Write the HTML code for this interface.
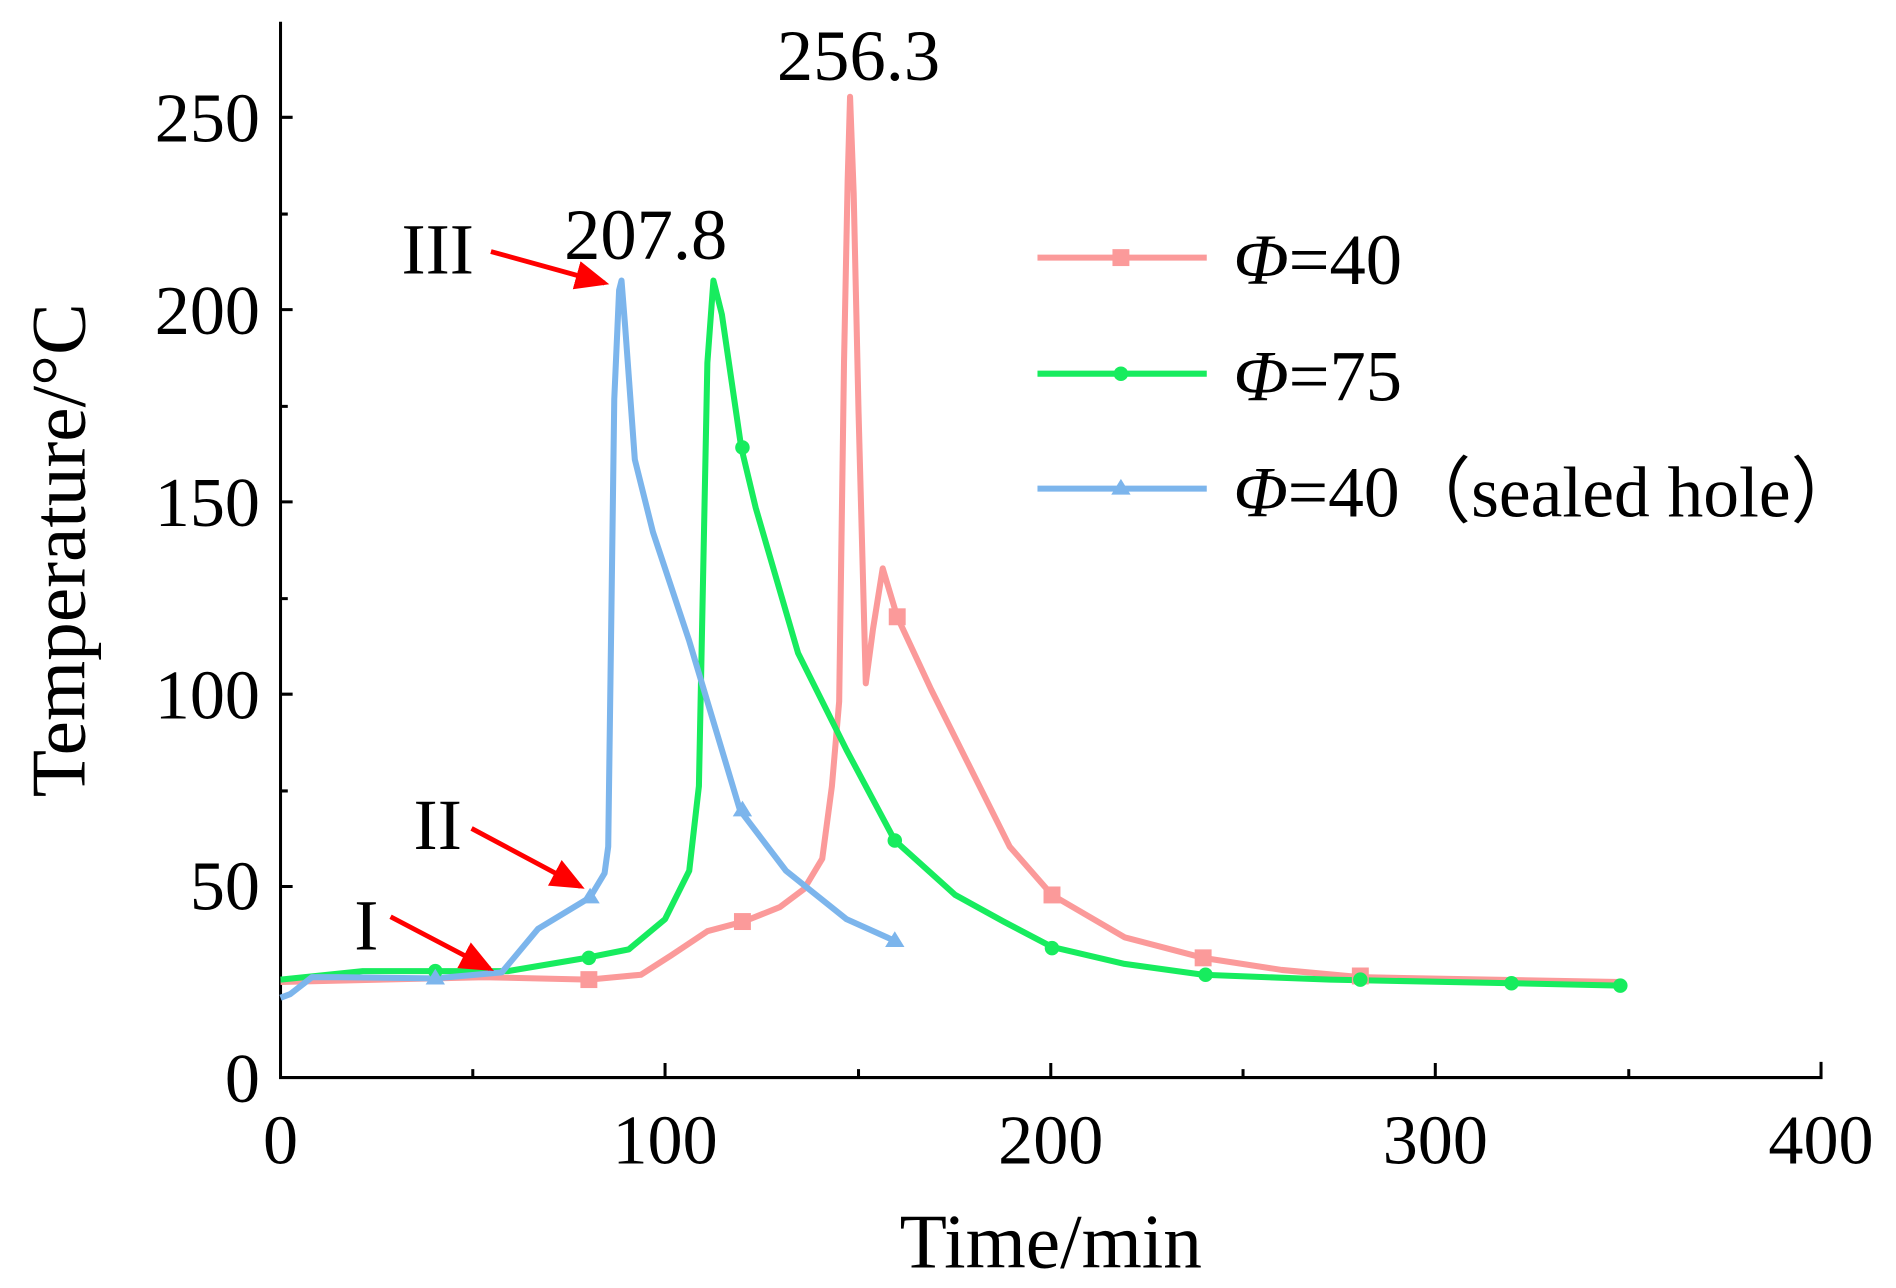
<!DOCTYPE html><html><head><style>body{margin:0;background:#fff}svg{display:block}</style></head><body>
<svg width="1896" height="1288" viewBox="0 0 1568 1065" preserveAspectRatio="none" xmlns="http://www.w3.org/2000/svg" font-family="Liberation Serif, serif">
<defs><marker id="ah" markerWidth="8" markerHeight="8" refX="6" refY="4" orient="auto" markerUnits="strokeWidth"><path d="M0,1 L7,4 L0,7 z" fill="#f00"/></marker></defs>
<g stroke="#000" stroke-width="2.5" fill="none">
<path d="M232,18 V891 H1506 V878"/>
<path d="M232,97 h10 M232,256 h10 M232,415 h10 M232,574 h10 M232,733 h10 M232,177 h6 M232,336 h6 M232,495 h6 M232,654 h6 M232,812 h6"/>
<path d="M550,891 v-12 M869,891 v-12 M1187,891 v-12 M391,891 v-7 M710,891 v-7 M1028,891 v-7 M1347,891 v-7"/>
</g>
<g font-size="58" text-anchor="end"><text x="215" y="911">0</text><text x="215" y="752">50</text><text x="215" y="594">100</text><text x="215" y="435">150</text><text x="215" y="276">200</text><text x="215" y="117">250</text></g>
<g font-size="58" text-anchor="middle"><text x="232" y="962">0</text><text x="550" y="962">100</text><text x="869" y="962">200</text><text x="1187" y="962">300</text><text x="1506" y="962">400</text></g>
<text x="869" y="1048" font-size="64" text-anchor="middle">Time/min</text>
<text transform="translate(70,455) rotate(-90)" font-size="64" text-anchor="middle">Temperature/°C</text>
<g fill="none" stroke-width="5" stroke-linejoin="round">
<polyline stroke="#fb9a9a" points="232,812 400,808 487,810 530,806 555,790 585,770 615,762 645,750 665,735 680,710 688,650 694,580 698,300 701,150 703,80 706,160 710,340 716,565 722,520 730,470 742,510 770,570 800,630 835,700 870,740 930,775 995,792 1060,802 1125,808 1340,812"/>
<polyline stroke="#17ec5e" points="232,810 300,803 420,803 485,792 520,785 550,760 570,720 578,650 585,300 590,232 597,260 613,370 625,420 660,540 700,620 740,695 790,740 830,762 870,783 930,797 995,806 1100,810 1250,813 1340,815"/>
<polyline stroke="#7cb5ec" points="232,825 240,822 258,808 280,808 360,809 415,804 445,768 488,742 500,722 503,700 508,330 512,240 514,232 517,270 525,380 540,440 570,530 612,670 650,720 700,760 740,778"/>
</g>
<g fill="#fb9a9a"><rect x="480" y="803" width="14" height="14"/><rect x="607" y="755" width="14" height="14"/><rect x="735" y="503" width="14" height="14"/><rect x="863" y="733" width="14" height="14"/><rect x="988" y="785" width="14" height="14"/><rect x="1118" y="800" width="14" height="14"/><rect x="920" y="206" width="14" height="14"/></g>
<g fill="#17ec5e"><circle cx="360" cy="803" r="6"/><circle cx="487" cy="792" r="6"/><circle cx="614" cy="370" r="6"/><circle cx="740" cy="695" r="6"/><circle cx="870" cy="784" r="6"/><circle cx="997" cy="806" r="6"/><circle cx="1125" cy="810" r="6"/><circle cx="1250" cy="813" r="6"/><circle cx="1340" cy="815" r="6"/><circle cx="927" cy="309" r="6"/></g>
<g fill="#7cb5ec"><path d="M360,801 l8,13 h-16z M488,734 l8,13 h-16z M614,662 l8,13 h-16z M740,770 l8,13 h-16z M927,396 l8,13 h-16z"/></g>
<g stroke-width="5"><line x1="858" y1="213" x2="998" y2="213" stroke="#fb9a9a"/><line x1="858" y1="309" x2="998" y2="309" stroke="#17ec5e"/><line x1="858" y1="404" x2="998" y2="404" stroke="#7cb5ec"/></g>
<g font-size="60"><text x="1020" y="235"><tspan font-style="italic">Φ</tspan>=40</text><text x="1020" y="331"><tspan font-style="italic">Φ</tspan>=75</text><text x="1020" y="427" textLength="520" lengthAdjust="spacingAndGlyphs"><tspan font-style="italic">Φ</tspan>=40（sealed hole）</text></g>
<g font-size="60" text-anchor="middle"><text x="710" y="66">256.3</text><text x="534" y="214">207.8</text><text x="362" y="226">III</text><text x="362" y="702">II</text><text x="303" y="785">I</text></g>
<g stroke="#f00" stroke-width="4" marker-end="url(#ah)"><line x1="406" y1="208" x2="500" y2="234"/><line x1="390" y1="685" x2="480" y2="733"/><line x1="323" y1="758" x2="405" y2="801"/></g>
</svg></body></html>
